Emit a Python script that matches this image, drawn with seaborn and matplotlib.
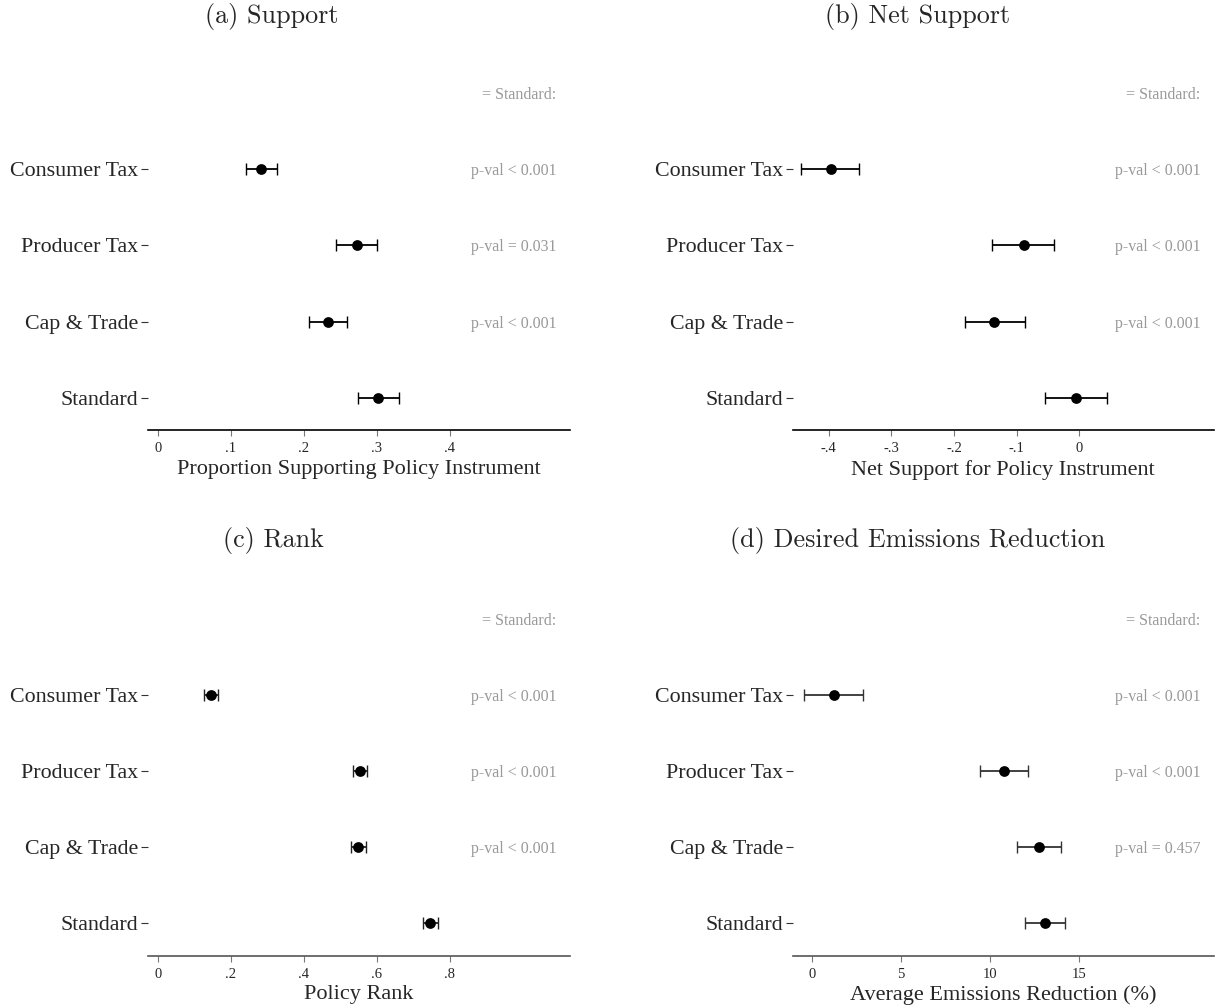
import numpy as np
import pandas as pd
import matplotlib
matplotlib.use("Agg")
import matplotlib.pyplot as plt
import seaborn as sns

# Policy instruments, top row to bottom row
policies = ["Consumer Tax", "Producer Tax", "Cap & Trade", "Standard"]

# (a) Support
support_est = [0.142, 0.273, 0.234, 0.302]
support_lo = [0.121, 0.245, 0.207, 0.274]
support_hi = [0.164, 0.301, 0.260, 0.331]
support_p = ["p-val < 0.001", "p-val = 0.031", "p-val < 0.001", ""]

# (b) Net Support
net_est = [-0.397, -0.089, -0.136, -0.005]
net_lo = [-0.444, -0.140, -0.183, -0.054]
net_hi = [-0.352, -0.040, -0.087, 0.044]
net_p = ["p-val < 0.001", "p-val < 0.001", "p-val < 0.001", ""]

# (c) Rank
rank_est = [0.146, 0.554, 0.550, 0.747]
rank_lo = [0.128, 0.534, 0.529, 0.727]
rank_hi = [0.166, 0.573, 0.570, 0.768]
rank_p = ["p-val < 0.001", "p-val < 0.001", "p-val < 0.001", ""]

# (d) Desired Emissions Reduction
emis_est = [1.22, 10.80, 12.74, 13.09]
emis_lo = [-0.43, 9.46, 11.50, 11.98]
emis_hi = [2.89, 12.17, 14.02, 14.24]
emis_p = ["p-val < 0.001", "p-val < 0.001", "p-val = 0.457", ""]

titles = ["(a) Support", "(b) Net Support", "(c) Rank",
          "(d) Desired Emissions Reduction"]
xlabels = ["Proportion Supporting Policy Instrument",
           "Net Support for Policy Instrument",
           "Policy Rank",
           "Average Emissions Reduction (%)"]
xticks_a = [0, 0.1, 0.2, 0.3, 0.4]
xticks_b = [-0.4, -0.3, -0.2, -0.1, 0]
xticks_c = [0, 0.2, 0.4, 0.6, 0.8]
xticks_d = [0, 5, 10, 15]
header_text = "= Standard:"

sns.set_theme(style="white")
plt.rcParams["font.family"] = ["Liberation Serif", "DejaVu Serif"]

fig = plt.figure(figsize=(12.2, 10.08), dpi=100)

W, H = 1220.0, 1008.0
row_px = 76.1
y_bottom = -0.425
ax_h_px = 380.0


def make_axes(left_px, right_px, bottom_px):
    return fig.add_axes([left_px / W, 1 - bottom_px / H,
                         (right_px - left_px) / W, ax_h_px / H])


def fmt_tick(v):
    if v == 0:
        return "0"
    s = f"{v:g}"
    return s.replace("0.", ".")


panels = [
    dict(est=support_est, lo=support_lo, hi=support_hi, p=support_p,
         ticks=xticks_a, xlim=(-0.0133, 0.565), box=(148, 570, 430),
         axc="black", ebc="black"),
    dict(est=net_est, lo=net_lo, hi=net_hi, p=net_p,
         ticks=xticks_b, xlim=(-0.4575, 0.215), box=(792.7, 1214, 430),
         axc="black", ebc="black"),
    dict(est=rank_est, lo=rank_lo, hi=rank_hi, p=rank_p,
         ticks=xticks_c, xlim=(-0.0266, 1.1296), box=(148, 570, 955.7),
         axc="#555555", ebc="#222222"),
    dict(est=emis_est, lo=emis_lo, hi=emis_hi, p=emis_p,
         ticks=xticks_d, xlim=(-1.08, 22.6), box=(792.7, 1214, 955.7),
         axc="#555555", ebc="#333333"),
]

title_pos = [(272, 16), (918, 16), (273, 541), (918, 541)]

for i, pan in enumerate(panels):
    ax = make_axes(*pan["box"])
    df = pd.DataFrame({
        "policy": policies,
        "estimate": pan["est"],
        "lo": pan["lo"],
        "hi": pan["hi"],
        "ypos": np.arange(len(policies))[::-1].astype(float),
    })
    ax.errorbar(df["estimate"], df["ypos"],
                xerr=[df["estimate"] - df["lo"], df["hi"] - df["estimate"]],
                fmt="none", ecolor=pan["ebc"], elinewidth=1.3,
                capsize=4.2, capthick=1.0, zorder=2)
    sns.scatterplot(data=df, x="estimate", y="ypos", color="black",
                    s=60, edgecolor="black", linewidth=0, zorder=3,
                    ax=ax, legend=False)

    ax.set_xlim(*pan["xlim"])
    ax.set_ylim(y_bottom, y_bottom + ax_h_px / row_px)
    ax.set_yticks(df["ypos"])
    ax.set_yticklabels(df["policy"], fontsize=15.8, va="center_baseline")
    ax.set_xticks(pan["ticks"])
    ax.set_xticklabels([fmt_tick(t) for t in pan["ticks"]], fontsize=10.5)
    ax.set_xlabel(xlabels[i], fontsize=16, labelpad=3)
    ax.set_ylabel("")

    for side in ["top", "right", "left"]:
        ax.spines[side].set_visible(False)
    ax.spines["bottom"].set_color(pan["axc"])
    ax.spines["bottom"].set_linewidth(1.2)
    ax.tick_params(axis="y", which="major", left=True, length=5, width=0.8,
                   pad=2, color="#333333", direction="out")
    ax.tick_params(axis="x", which="major", bottom=True, length=4.5,
                   width=0.8, pad=4.5, color="#777777", direction="out")
    ax.grid(False)
    ax.set_facecolor("white")

    trans = ax.get_yaxis_transform()
    for yv, lab in zip(df["ypos"], pan["p"]):
        if lab:
            ax.text(0.968, yv, lab, transform=trans, ha="right",
                    va="center_baseline", fontsize=11.5, color="#999999")
    ax.text(0.968, 4, header_text, transform=trans, ha="right",
            va="center_baseline", fontsize=11.5, color="#999999")

    tx, ty = title_pos[i]
    fig.text(tx / W, 1 - ty / H, titles[i], ha="center", va="center",
             fontsize=18.8, family="cmr10")

fig.savefig("out.png", dpi=100, facecolor="white")
